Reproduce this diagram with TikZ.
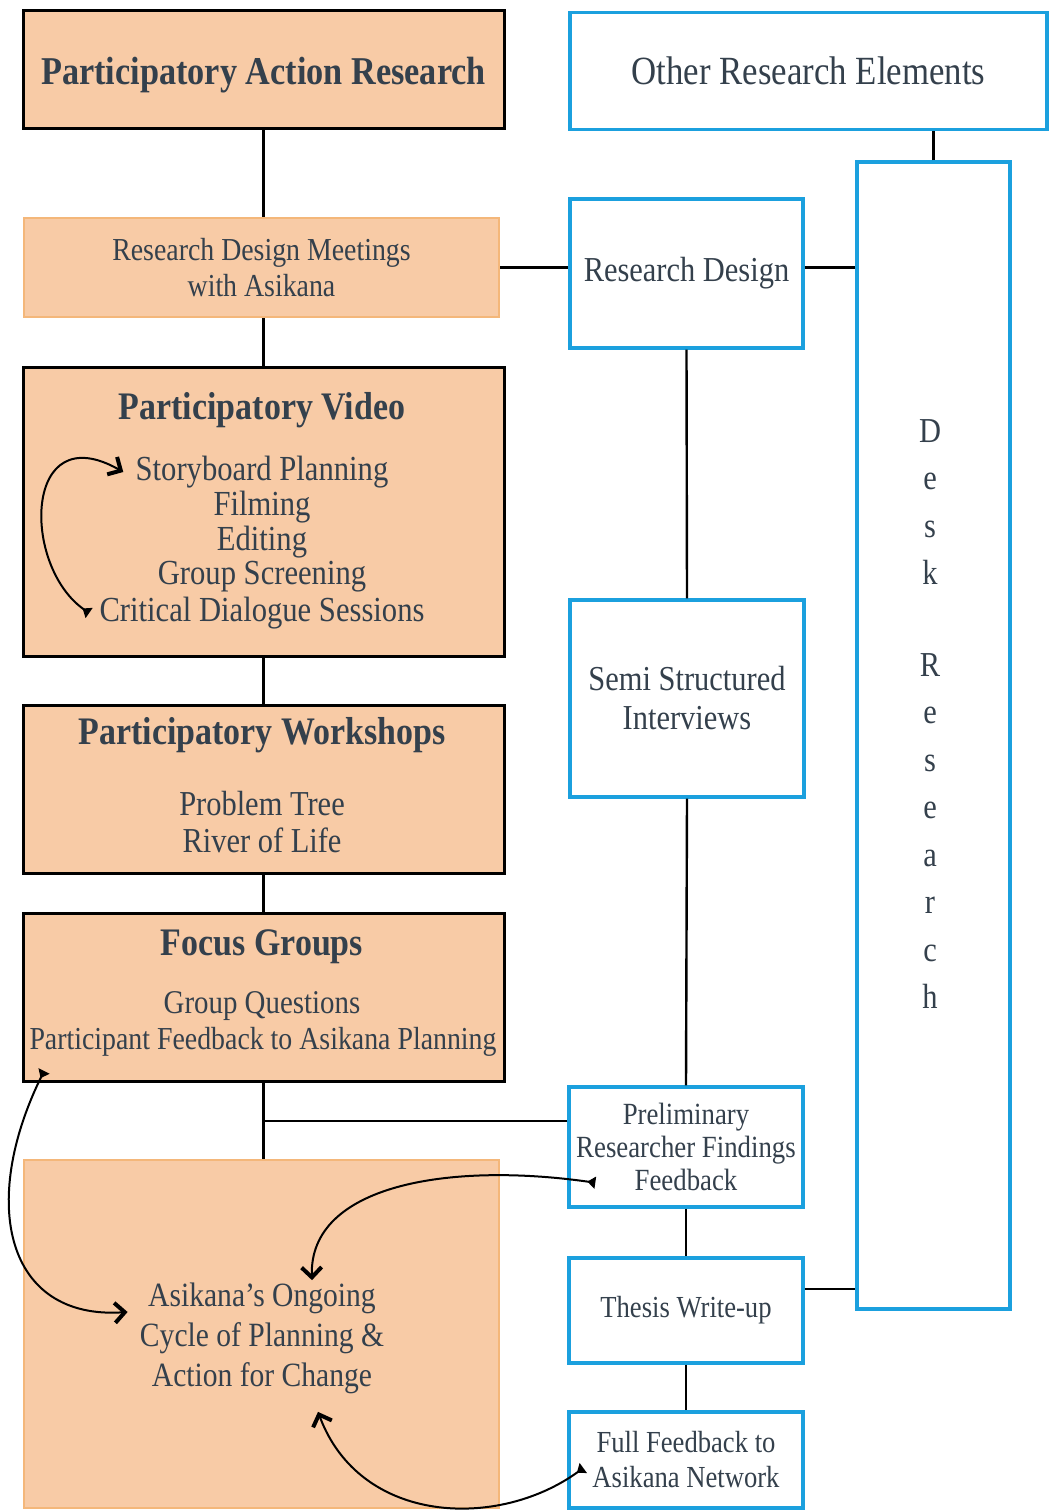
\documentclass[tikz,border=0pt]{standalone}
\usepackage{fontspec}
\setmainfont[FakeStretch=0.87]{Liberation Serif}
\usepackage{xcolor}
\usepackage{tikz}
\usetikzlibrary{arrows.meta, positioning, calc}
\definecolor{parfill}{HTML}{F8CBA6}
\definecolor{parline}{HTML}{F4B77A}
\definecolor{orblue}{HTML}{1BA0DE}
\definecolor{inktext}{HTML}{34404C}

\begin{document}
\begin{tikzpicture}[x=0.5pt, y=0.5pt,
  parbox/.style={draw=black, line width=1.5pt, fill=parfill, text=inktext, inner sep=0pt, align=center},
  softbox/.style={draw=parline, line width=1pt, fill=parfill, text=inktext, inner sep=0pt, align=center},
  otherbox/.style={draw=orblue, line width=1.7pt, fill=white, text=inktext, inner sep=0pt, align=center},
  lbl/.style={text=inktext, inner sep=1pt, align=center},
  head/.style={lbl, font=\fontsize{19.5}{22}\selectfont\bfseries},
  trunk/.style={line width=1.2pt},
  cyclearrow/.style={line width=1pt, {Triangle[reversed,length=4pt,width=6pt]}-{Straight Barb[length=5pt,width=10pt,line width=2pt]}},
]
\useasboundingbox (0,0) rectangle (1049,-1510);

% participatory action research column
\node[parbox, minimum width=240.5pt, minimum height=59pt, font=\fontsize{19.7}{22}\selectfont\bfseries, text height=20pt, text depth=4.3pt] (par) at (263.5,-69) {Participatory Action Research};
\node[softbox, minimum width=237.5pt, minimum height=49.5pt, font=\fontsize{16}{18}\selectfont] (rdm) at (261.5,-267.5) {Research Design Meetings\\with Asikana};
\node[parbox, minimum width=240.5pt, minimum height=144.5pt] (pv) at (263.5,-511.5) {};
\node[parbox, minimum width=240.5pt, minimum height=84pt] (pw) at (263.5,-789) {};
\node[parbox, minimum width=240.5pt, minimum height=84pt] (fg) at (263.5,-997) {};
\node[softbox, minimum width=237.5pt, minimum height=174pt] (asikbox) at (261.5,-1334) {};

\node[head] (pvhead) at (262,-410) {Participatory Video};
\node[lbl, font=\fontsize{17.6}{20}\selectfont] (story) at (262,-472) {Storyboard Planning};
\node[lbl, font=\fontsize{17.6}{20}\selectfont] (film) at (262,-507) {Filming};
\node[lbl, font=\fontsize{17.6}{20}\selectfont] (edit) at (262,-542) {Editing};
\node[lbl, font=\fontsize{17.6}{20}\selectfont] (screen) at (262,-577) {Group Screening};
\node[lbl, font=\fontsize{17.6}{20}\selectfont] (crit) at (262,-613) {Critical Dialogue Sessions};

\node[head] (pwhead) at (262,-735) {Participatory Workshops};
\node[lbl, font=\fontsize{17.5}{18.5}\selectfont] (pwitems) at (262,-822) {Problem Tree\\River of Life};

\node[head] (fghead) at (262,-947) {Focus Groups};
\node[lbl, font=\fontsize{16.6}{18}\selectfont] (fgq) at (262,-1006) {Group Questions};
\node[lbl, font=\fontsize{16}{18}\selectfont] (fgfeed) at (263,-1042) {Participant Feedback to Asikana Planning};

\node[lbl, font=\fontsize{17}{20}\selectfont] (asik) at (262,-1338) {Asikana’s Ongoing\\Cycle of Planning \&\\Action for Change};

% other research elements column
\node[otherbox, minimum width=238.5pt, minimum height=58.5pt, font=\fontsize{20}{22}\selectfont] (ore) at (808.5,-71) {Other Research Elements};
\node[otherbox, minimum width=116.5pt, minimum height=74.5pt, font=\fontsize{17.5}{20}\selectfont] (rd) at (686.5,-273.5) {Research Design};
\node[otherbox, minimum width=117pt, minimum height=98.5pt, font=\fontsize{17.5}{19.5}\selectfont] (ssi) at (687,-698.5) {Semi Structured\\Interviews};
\node[otherbox, minimum width=117pt, minimum height=60pt, font=\fontsize{15.4}{16.5}\selectfont] (prelim) at (686,-1147) {Preliminary\\Researcher Findings\\Feedback};
\node[otherbox, minimum width=117pt, minimum height=52.5pt, font=\fontsize{15.3}{17}\selectfont] (thesis) at (686,-1310.5) {Thesis Write-up};
\node[otherbox, minimum width=117pt, minimum height=48pt, font=\fontsize{15.3}{17.5}\selectfont] (full) at (686,-1460) {Full Feedback to\\Asikana Network};
\node[otherbox, minimum width=76.5pt, minimum height=573.5pt] (desk) at (933.5,-735.5) {};
\node[lbl, font=\fontsize{17.5}{23.75}\selectfont] (desktext) at (930,-714) {D\\e\\s\\k\\[22pt]R\\e\\s\\e\\a\\r\\c\\h};

% connectors
\draw[trunk] (par.south) -- (par.south |- rdm.north);
\draw[trunk] (par.south |- rdm.south) -- (pv.north);
\draw[trunk] (pv.south) -- (pw.north);
\draw[trunk] (pw.south) -- (fg.north);
\draw[trunk] (fg.south) -- (fg.south |- asikbox.north);
\draw[trunk] ([yshift=13pt]prelim.west) -- ([yshift=13pt]prelim.west -| fg.south);
\draw[trunk] (rdm.east) -- (rdm.east -| rd.west);
\draw[trunk] (rdm.east -| rd.east) -- (rdm.east -| desk.west);
\draw[trunk] (desk.north) -- (desk.north |- ore.south);
\draw[trunk] (rd.south) -- (ssi.north);
\draw[trunk] (ssi.south) -- (prelim.north);
\draw[trunk] (prelim.south) -- (thesis.north);
\draw[trunk] ([yshift=10.75pt]thesis.east) -- ([yshift=10.75pt]thesis.east -| desk.west);
\draw[trunk] (thesis.south) -- (full.north);

% cycle arrows
\draw[cyclearrow] ([xshift=-4pt]crit.west) .. controls +(-68,47) and +(-100,57) .. ([xshift=-5pt]story.west);
\draw[cyclearrow] ([shift={(17,-12)}]fgfeed.south west) .. controls +(-65,-132) and +(-122,-8) .. ([xshift=-5pt]asik.west |- 0,-1312);
\draw[cyclearrow] ([shift={(28,26)}]prelim.south west) .. controls +(-147,21) and +(-3,95) .. ([xshift=25pt]asik.north);
\draw[cyclearrow] ([shift={(16,-8)}]full.west) .. controls +(-85,-62) and +(42,-113) .. ([xshift=28pt,yshift=-8pt]asik.south);
\end{tikzpicture}
\end{document}
